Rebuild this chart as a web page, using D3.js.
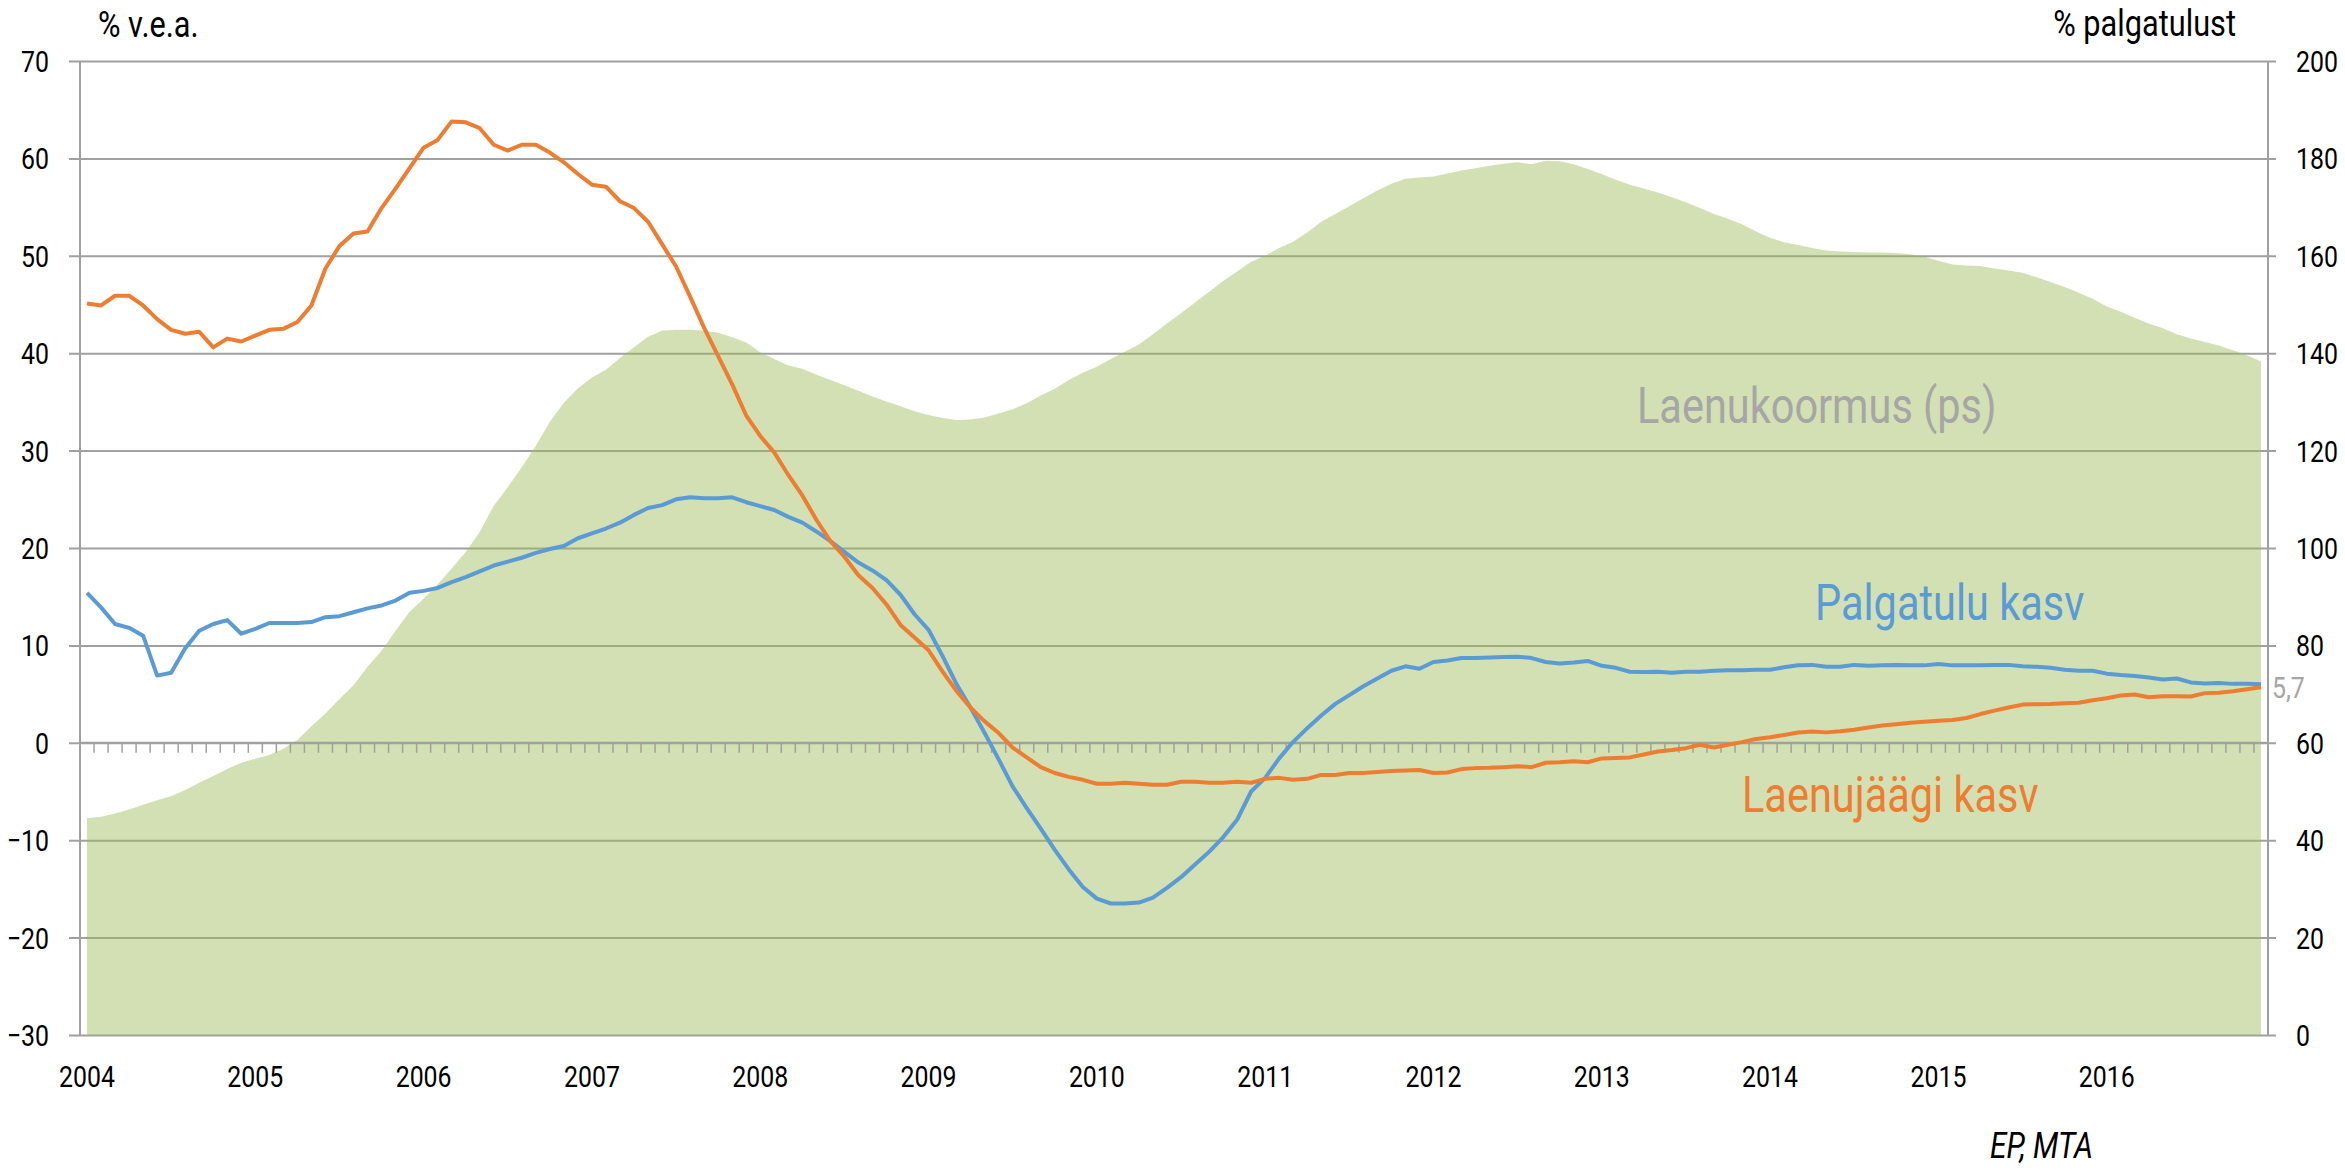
<!DOCTYPE html>
<html><head><meta charset="utf-8">
<script src="https://cdn.jsdelivr.net/npm/d3@7"></script>
<style>
body{margin:0;background:#fff}
svg{display:block}
text{font-family:Roboto,"Noto Sans",sans-serif}
</style>
</head><body>
<svg id="chart" width="2345" height="1170"></svg>
<script>
// ---- data (monthly, Jan 2004 .. Dec 2016) ----
const years = ["2004","2005","2006","2007","2008","2009","2010","2011","2012","2013","2014","2015","2016"];
const leftTicks = [70,60,50,40,30,20,10,0,-10,-20,-30];
const rightTicks = [200,180,160,140,120,100,80,60,40,20,0];

// Laenukoormus (ps), % palgatulust — right axis
const loanBurden = [
 44.5,44.8,45.5,46.3,47.3,48.2,49.0,50.3,51.8,53.2,
 54.6,55.9,56.7,57.5,58.8,60.6,63.4,66.0,69.0,71.8,
 75.6,78.9,83.0,86.9,89.6,92.5,95.8,99.2,103.3,108.7,
 112.5,116.6,121.0,125.9,129.8,132.8,135.0,136.6,139.0,141.2,
 143.4,144.6,144.8,144.8,144.6,144.2,143.3,142.2,140.2,138.8,
 137.5,136.8,135.6,134.5,133.4,132.3,131.1,130.1,129.1,128.1,
 127.3,126.7,126.3,126.4,126.8,127.6,128.5,129.7,131.3,132.7,
 134.5,136.0,137.2,138.8,140.3,141.8,143.9,146.1,148.2,150.4,
 152.6,154.8,156.8,158.8,160.0,161.6,162.9,164.8,167.0,168.6,
 170.2,171.8,173.4,174.8,175.8,176.1,176.3,176.9,177.5,178.0,
 178.5,178.9,179.2,178.8,179.5,179.4,178.8,177.8,176.8,175.6,
 174.6,173.8,173.0,172.0,171.0,169.8,168.6,167.6,166.5,165.0,
 163.7,162.8,162.2,161.6,161.1,160.9,160.8,160.7,160.7,160.6,
 160.3,159.8,159.0,158.2,158.0,157.9,157.4,157.0,156.5,155.6,
 154.6,153.6,152.4,151.2,149.6,148.5,147.3,146.1,145.1,143.9,
 143.0,142.3,141.6,140.6,139.6,138.3
];

// Palgatulu kasv, % v.e.a. — left axis
const wageGrowth = [
 15.4,13.9,12.2,11.8,11.0,6.9,7.2,9.7,11.5,12.2,
 12.6,11.2,11.7,12.3,12.3,12.3,12.4,12.9,13.0,13.4,
 13.8,14.1,14.6,15.4,15.6,15.9,16.5,17.0,17.6,18.2,
 18.6,19.0,19.5,19.9,20.2,21.0,21.5,22.0,22.6,23.4,
 24.1,24.4,25.0,25.2,25.1,25.1,25.2,24.7,24.3,23.9,
 23.2,22.6,21.7,20.7,19.6,18.5,17.7,16.7,15.2,13.2,
 11.6,8.9,6.0,3.6,1.0,-1.7,-4.5,-6.7,-8.8,-11.0,
 -13.0,-14.8,-16.0,-16.5,-16.5,-16.4,-15.9,-14.9,-13.8,-12.5,
 -11.2,-9.7,-7.9,-5.0,-3.6,-1.6,0.1,1.5,2.8,4.0,
 4.9,5.8,6.6,7.4,7.85,7.6,8.3,8.45,8.7,8.7,
 8.77,8.8,8.84,8.7,8.3,8.15,8.25,8.4,7.9,7.7,
 7.3,7.26,7.3,7.2,7.3,7.3,7.4,7.45,7.45,7.5,
 7.5,7.75,7.97,8.0,7.8,7.8,8.0,7.9,7.95,8.0,
 7.95,7.95,8.1,7.95,7.95,7.95,8.0,8.0,7.85,7.8,
 7.7,7.5,7.4,7.4,7.1,6.95,6.85,6.7,6.5,6.6,
 6.2,6.1,6.15,6.05,6.05,6.0
];

// Laenujäägi kasv, % v.e.a. — left axis
const loanGrowth = [
 45.1,44.9,45.9,45.9,44.9,43.5,42.4,42.0,42.2,40.6,
 41.5,41.2,41.8,42.4,42.5,43.2,44.9,48.7,51.0,52.3,
 52.5,54.9,56.9,59.0,61.1,61.9,63.8,63.7,63.1,61.4,
 60.8,61.4,61.4,60.6,59.6,58.4,57.3,57.1,55.6,54.9,
 53.5,51.2,48.9,45.8,42.6,39.7,36.8,33.6,31.5,29.8,
 27.5,25.4,22.9,20.7,19.1,17.2,15.9,14.2,12.1,10.8,
 9.5,7.3,5.3,3.6,2.2,1.0,-0.5,-1.5,-2.5,-3.1,
 -3.5,-3.8,-4.2,-4.2,-4.1,-4.2,-4.3,-4.3,-4.0,-4.0,
 -4.1,-4.1,-4.0,-4.1,-3.7,-3.6,-3.8,-3.7,-3.3,-3.3,
 -3.1,-3.1,-3.0,-2.9,-2.85,-2.8,-3.1,-3.05,-2.7,-2.6,
 -2.57,-2.5,-2.4,-2.5,-2.05,-2.0,-1.9,-2.0,-1.6,-1.55,
 -1.5,-1.2,-0.9,-0.75,-0.55,-0.2,-0.48,-0.2,0.07,0.4,
 0.58,0.8,1.05,1.15,1.07,1.19,1.35,1.57,1.78,1.9,
 2.05,2.15,2.27,2.35,2.55,2.95,3.3,3.62,3.92,3.96,
 3.98,4.05,4.12,4.37,4.57,4.85,4.95,4.68,4.78,4.78,
 4.75,5.1,5.15,5.3,5.5,5.7
];

// ---- layout ----
const plotLeft = 80, plotRight = 2268, plotTop = 61, plotBottom = 1035;
const gridL = 69, gridR = 2276;
const grey = "#a0a0a0";
const condense = 0.83;

const svg = d3.select("#chart");
const months = d3.range(loanBurden.length);
const x = d3.scaleBand().domain(months).range([plotLeft, plotRight]);
const cx = i => x(i) + x.bandwidth() / 2;
const yL = d3.scaleLinear().domain([-30, 70]).range([plotBottom, plotTop]);
const yR = d3.scaleLinear().domain([0, 200]).range([plotBottom, plotTop]);

// gridlines + left labels
const gLeft = svg.append("g").attr("transform", `translate(${gridL},0)`)
  .call(d3.axisLeft(yL).tickValues(leftTicks).tickSize(-(gridR - gridL)).tickPadding(20).tickFormat(d3.format("d")));
gLeft.select(".domain").remove();
gLeft.selectAll(".tick line").attr("stroke", grey).attr("stroke-width", 2);
gLeft.selectAll(".tick text").attr("font-size", 30).attr("fill", "#000").attr("dy", "0.35em").attr("y", 0);

// right labels
const gRight = svg.append("g").attr("transform", `translate(${gridR},0)`)
  .call(d3.axisRight(yR).tickValues(rightTicks).tickSize(0).tickPadding(20).tickFormat(d3.format("d")));
gRight.select(".domain").remove();
gRight.selectAll(".tick text").attr("font-size", 30).attr("fill", "#000").attr("dy", "0.35em").attr("y", 0);
svg.selectAll("g").attr("font-family", null);

// area (right axis)
svg.append("path")
  .datum(loanBurden)
  .attr("fill", "#9BBB59").attr("fill-opacity", 0.45)
  .attr("d", d3.area().x((d, i) => cx(i)).y0(yR(0)).y1(d => yR(d)));

// vertical axes
svg.append("line").attr("x1", plotLeft).attr("x2", plotLeft).attr("y1", plotTop).attr("y2", plotBottom)
  .attr("stroke", grey).attr("stroke-width", 2);
svg.append("line").attr("x1", plotRight).attr("x2", plotRight).attr("y1", plotTop).attr("y2", plotBottom)
  .attr("stroke", grey).attr("stroke-width", 2);

// category axis at 0 with monthly ticks
svg.append("line").attr("x1", plotLeft).attr("x2", plotRight).attr("y1", yL(0)).attr("y2", yL(0))
  .attr("stroke", grey).attr("stroke-width", 2);
svg.append("g").selectAll("line")
  .data(d3.range(loanBurden.length + 1))
  .join("line")
  .attr("x1", i => plotLeft + i * x.step()).attr("x2", i => plotLeft + i * x.step())
  .attr("y1", yL(0)).attr("y2", yL(0) + 10)
  .attr("stroke", grey).attr("stroke-width", 1.5);

// year labels
svg.append("g").selectAll("text")
  .data(years)
  .join("text")
  .attr("x", (d, k) => cx(k * 12))
  .attr("y", 1087)
  .attr("text-anchor", "middle")
  .attr("font-size", 30)
  .attr("fill", "#000")
  .text(d => d);

// lines
const line = d3.line().x((d, i) => cx(i)).y(d => yL(d));
svg.append("path").datum(wageGrowth)
  .attr("fill", "none").attr("stroke", "#5B9BD5").attr("stroke-width", 4)
  .attr("stroke-linejoin", "round").attr("d", line);
svg.append("path").datum(loanGrowth)
  .attr("fill", "none").attr("stroke", "#ED7D31").attr("stroke-width", 4)
  .attr("stroke-linejoin", "round").attr("d", line);

// end value label
const lastI = loanGrowth.length - 1;
svg.append("text")
  .attr("x", cx(lastI) + 11).attr("y", yL(loanGrowth[lastI])).attr("dy", "0.35em")
  .attr("font-size", 30).attr("fill", "#a6a6a6")
  .text(d3.format(".1f")(loanGrowth[lastI]).replace(".", ","));

// axis titles
svg.append("text").attr("x", 98).attr("y", 37).attr("font-size", 37).attr("fill", "#000").text("% v.e.a.");
svg.append("text").attr("x", 2236).attr("y", 36).attr("text-anchor", "end").attr("font-size", 37).attr("fill", "#000").text("% palgatulust");

// series labels
svg.append("text").attr("x", 1637).attr("y", 423).attr("font-size", 50).attr("fill", "#a6a6a6").text("Laenukoormus (ps)");
svg.append("text").attr("x", 1815).attr("y", 620).attr("font-size", 50).attr("fill", "#5B9BD5").text("Palgatulu kasv");
svg.append("text").attr("x", 1742).attr("y", 812).attr("font-size", 50).attr("fill", "#ED7D31").text("Laenujäägi kasv");

// source
svg.append("text").attr("x", 1990).attr("y", 1158).attr("font-size", 36).attr("font-style", "italic").attr("fill", "#000").text("EP, MTA");

// condense all text horizontally (reference uses a condensed face)
svg.selectAll("text").each(function () {
  const t = d3.select(this);
  const tx = +(t.attr("x") || 0), ty = +(t.attr("y") || 0);
  t.attr("x", 0).attr("y", 0).attr("transform", `translate(${tx},${ty}) scale(${condense},1)`);
});
</script>
</body></html>
